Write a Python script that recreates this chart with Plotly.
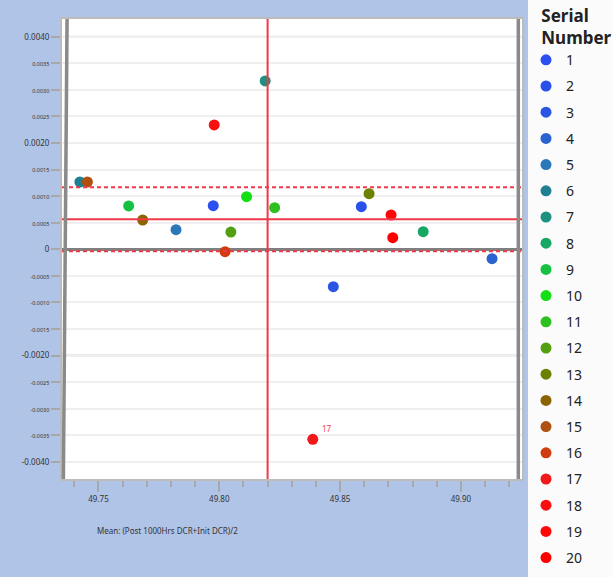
import plotly.graph_objects as go

# Mean of the two DCR readings vs. their difference, one point per serial number
serials = list(range(1, 21))
mean_dcr = [49.7975, 49.8588, 49.8472, 49.9129, 49.7821, 49.7423, 49.8190, 49.8844,
            49.7625, 49.8113, 49.8229, 49.8048, 49.8620, 49.7683, 49.7454, 49.8024,
            49.8387, 49.7979, 49.8711, 49.8718]
diff_dcr = [0.000820, 0.000801, -0.000704, -0.000177, 0.000369, 0.001266, 0.003167, 0.000331,
            0.000815, 0.000990, 0.000783, 0.000325, 0.001046, 0.000551, 0.001266, -0.000045,
            -0.003575, 0.002339, 0.000645, 0.000218]

# Reference lines: grand mean of x, mean difference and its 95% limits
x_centre = 49.8200
diff_mean = 0.000564
diff_lower = -0.000038
diff_upper = 0.001167

# Y tick positions and labels (major every 0.002, minor every 0.0005)
y_ticks = [round(-0.004 + 0.0005 * i, 4) for i in range(17)]
y_major = [-0.004, -0.002, 0.0, 0.002, 0.004]
x_ticks = [49.75, 49.80, 49.85, 49.90]
x_ticklabels = ["49.75", "49.80", "49.85", "49.90"]

colors = ["#2b4ff0", "#2a50ea", "#2a55e2", "#2a62d0", "#2a78b8", "#1f8094", "#1e9080",
          "#16a862", "#16c040", "#12e012", "#2ec020", "#52a012", "#6a8200", "#8a6400",
          "#b05010", "#d03c10", "#f01818", "#f81010", "#ff0808", "#ff0000"]

FONT = "Noto Sans, Open Sans, DejaVu Sans, sans-serif"

fig = go.Figure()
for s, xv, yv, c in zip(serials, mean_dcr, diff_dcr, colors):
    fig.add_trace(go.Scatter(
        x=[xv], y=[yv], mode="markers", name=str(s), legendgroup=str(s),
        marker=dict(color=c, size=11, line=dict(width=0)),
    ))


def ytext(v):
    if v == 0:
        return "0"
    s = f"{v:.4f}"
    if any(abs(v - m) < 1e-9 for m in y_major):
        return s
    return f'<span style="font-size:5.5px">{s}</span>'


y_ticktext = [ytext(v) for v in y_ticks]

shapes = []
# white legend panel on the right
shapes.append(dict(type="rect", xref="paper", yref="paper", x0=1.013, x1=1.25,
                   y0=-0.3, y1=1.1, fillcolor="#fbfbfc", line=dict(width=0), layer="below"))
# darker grid lines at the major ticks
for v in y_major:
    if v != 0:
        shapes.append(dict(type="line", xref="paper", yref="y", x0=0, x1=1, y0=v, y1=v,
                           line=dict(color="#d6d6d6", width=2), layer="below"))
# reference lines
shapes.append(dict(type="line", xref="x", yref="paper", x0=x_centre, x1=x_centre, y0=0, y1=1,
                   line=dict(color="#f03848", width=2)))
shapes.append(dict(type="line", xref="paper", yref="y", x0=0, x1=1, y0=diff_mean, y1=diff_mean,
                   line=dict(color="#f03848", width=2)))
for v in (diff_lower, diff_upper):
    shapes.append(dict(type="line", xref="paper", yref="y", x0=0, x1=1, y0=v, y1=v,
                       line=dict(color="#f03848", width=2, dash="4px,3px")))
# heavy frame bars on the left and right edges
shapes.append(dict(type="line", xref="paper", yref="paper", x0=0.011, x1=0.003, y0=1, y1=0,
                   line=dict(color="#8a8a8a", width=3.5)))
shapes.append(dict(type="line", xref="paper", yref="paper", x0=0.992, x1=0.992, y0=1, y1=0,
                   line=dict(color="#8a8a8a", width=3.5)))

annotations = [
    dict(text="Mean: (Post 1000Hrs DCR+Init DCR)/2", xref="paper", yref="paper",
         x=0.0717, y=-0.111, xanchor="left", yanchor="middle", showarrow=False,
         font=dict(family=FONT, size=8, color="#333333")),
    dict(text="17", xref="x", yref="y", x=mean_dcr[16], y=diff_dcr[16], xshift=14, yshift=11,
         showarrow=False, font=dict(family=FONT, size=8, color="#f04040")),
]

fig.update_layout(
    width=613, height=577,
    margin=dict(l=62, r=91, t=19, b=98, autoexpand=False),
    paper_bgcolor="#b0c4e8",
    plot_bgcolor="white",
    font=dict(family=FONT, color="#333333"),
    showlegend=True,
    legend=dict(
        x=1.0087, xanchor="left", y=1.0, yanchor="top", yref="container", maxheight=1,
        bgcolor="rgba(255,255,255,0)", borderwidth=0,
        font=dict(family=FONT, size=14, color="#222222"),
        title=dict(text="<b>\u00a0\u00a0\u00a0Serial<br>\u00a0\u00a0\u00a0Number</b>",
                   font=dict(family=FONT, size=17, color="#222222")),
        tracegroupgap=5, itemclick=False,
    ),
    xaxis=dict(
        range=[49.7349, 49.9253], tickmode="array", tickvals=x_ticks, ticktext=x_ticklabels,
        ticks="outside", ticklen=11, tickwidth=2, tickcolor="#a8a8a8",
        minor=dict(tickmode="linear", tick0=49.75, dtick=0.01, ticks="outside", ticklen=6,
                   tickwidth=2, tickcolor="#a8a8a8", showgrid=False),
        showgrid=False, zeroline=False, showline=True, linecolor="#bcbcbc", linewidth=2,
        mirror=True, tickfont=dict(family=FONT, size=8, color="#333333"),
    ),
    yaxis=dict(
        range=[-0.004322, 0.004333], tickmode="array", tickvals=y_ticks, ticktext=y_ticktext,
        ticks="outside", ticklen=9, tickwidth=2, tickcolor="#a8a8a8",
        showgrid=True, gridcolor="#efefef", gridwidth=2,
        zeroline=True, zerolinecolor="#808080", zerolinewidth=3,
        showline=True, linecolor="#bcbcbc", linewidth=2, mirror=True,
        tickfont=dict(family=FONT, size=8, color="#333333"),
    ),
    shapes=shapes,
    annotations=annotations,
)

fig.write_html("out.html")
